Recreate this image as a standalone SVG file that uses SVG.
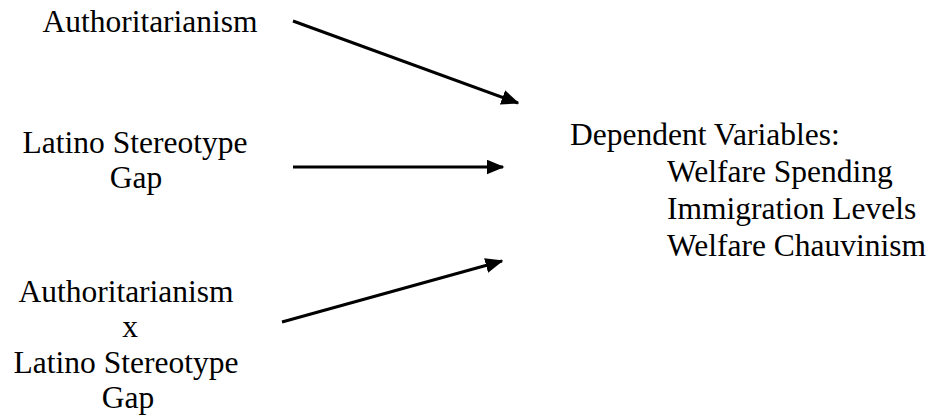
<svg xmlns="http://www.w3.org/2000/svg" width="935" height="419" viewBox="0 0 935 419">
<style>
text{font-size:31.5px;fill:#000}
.c{text-anchor:middle}
.e{stroke:#000;stroke-width:3;fill:none}
</style>
<defs>
<marker id="ah" markerWidth="6" markerHeight="5" refX="5.5" refY="2.5" orient="auto" markerUnits="strokeWidth">
<path d="M0,0 L6,2.5 L0,5 Z" fill="#000"/>
</marker>
</defs>
<rect width="935" height="419" fill="#fff"/>
<g font-family="'Liberation Serif', Tinos, 'Times New Roman', 'DejaVu Serif', serif">
<g id="n1"><text class="c" x="150" y="32">Authoritarianism</text></g>
<g id="n2"><text class="c" x="135" y="153">Latino Stereotype</text><text class="c" x="136" y="188">Gap</text></g>
<g id="n3"><text class="c" x="126" y="302">Authoritarianism</text><text class="c" x="130" y="337">x</text><text class="c" x="126" y="373">Latino Stereotype</text><text class="c" x="128" y="408">Gap</text></g>
<g id="n4"><text x="570" y="145">Dependent Variables:</text><text x="667" y="182">Welfare Spending</text><text x="667" y="219">Immigration Levels</text><text x="667" y="256">Welfare Chauvinism</text></g>
</g>
<g id="connectors">
<line class="e" x1="293" y1="21" x2="518" y2="103" marker-end="url(#ah)"/>
<line class="e" x1="293" y1="167" x2="503" y2="167" marker-end="url(#ah)"/>
<line class="e" x1="282" y1="322" x2="502" y2="261" marker-end="url(#ah)"/>
</g>
</svg>
